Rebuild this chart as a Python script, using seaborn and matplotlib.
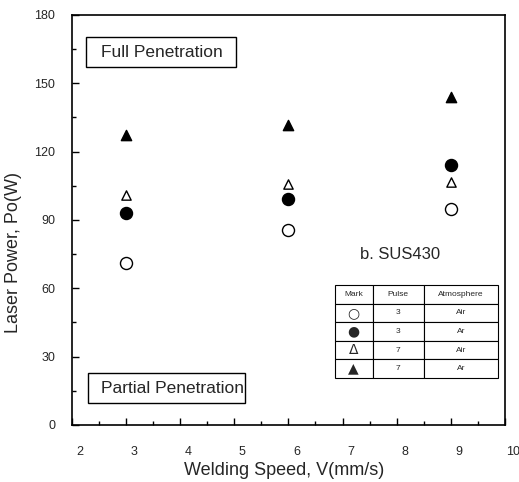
import matplotlib
matplotlib.use("Agg")
import matplotlib.pyplot as plt
import matplotlib.transforms as mtransforms
from matplotlib.patches import Rectangle
import seaborn as sns
import pandas as pd
from matplotlib.ticker import MultipleLocator

sns.set_style("ticks")
plt.rcParams['font.family'] = ['Liberation Sans', 'DejaVu Sans']

speeds = [3, 6, 9]
open_circle_3_air = [71, 85.6, 94.7]
filled_circle_3_ar = [93.2, 99.2, 114.1]
open_tri_7_air = [101, 105.7, 106.5]
filled_tri_7_ar = [127.3, 131.7, 144.1]

series_names = ["3 Air", "3 Ar", "7 Air", "7 Ar"]
series_values = [open_circle_3_air, filled_circle_3_ar, open_tri_7_air, filled_tri_7_ar]
pulse = ["3", "3", "7", "7"]
atmosphere = ["Air", "Ar", "Air", "Ar"]
mark_glyphs = ["○", "●", "Δ", "▲"]

x_ticks = [2, 3, 4, 5, 6, 7, 8, 9, 10]
y_ticks = [0, 30, 60, 90, 120, 150, 180]

styles = {
    "3 Air": dict(marker="o", s=75, facecolor="white", edgecolor="black", linewidth=1.0),
    "3 Ar": dict(marker="o", s=75, facecolor="black", edgecolor="black", linewidth=1.0),
    "7 Air": dict(marker="^", s=45, facecolor="white", edgecolor="black", linewidth=1.0),
    "7 Ar": dict(marker="^", s=55, facecolor="black", edgecolor="black", linewidth=1.0),
}

fig = plt.figure(figsize=(5.19, 4.82), dpi=100)
ax = fig.add_axes([0.1387, 0.1183, 0.834, 0.8507])

for name, vals in zip(series_names, series_values):
    df = pd.DataFrame({"V": speeds, "P": vals})
    sns.scatterplot(data=df, x="V", y="P", ax=ax, legend=False, **styles[name])

ax.set_xlim(2, 10)
ax.set_ylim(0, 180)
ax.set_xticks(x_ticks)
ax.set_yticks(y_ticks)
ax.xaxis.set_minor_locator(MultipleLocator(0.5))
ax.yaxis.set_minor_locator(MultipleLocator(15))
ax.tick_params(which="both", direction="in", length=5, width=1, labelsize=9, color="black")
ax.tick_params(which="minor", length=3)
ax.tick_params(axis="x", pad=15)
ax.tick_params(axis="y", pad=12)
for sp in ax.spines.values():
    sp.set_linewidth(1.2)
    sp.set_color("black")

# scanned original: x tick labels sit slightly right of their ticks
offset = mtransforms.ScaledTranslation(8 / 100, 0, fig.dpi_scale_trans)
for tick in ax.xaxis.get_major_ticks():
    tick.label1.set_transform(tick.label1.get_transform() + offset)

ax.set_xlabel("Welding Speed, V(mm/s)", fontsize=13)
ax.set_ylabel("Laser Power, Po(W)", fontsize=13)
ax.xaxis.set_label_coords(0.49, -0.09)
ax.yaxis.set_label_coords(-0.115, 0.42)

ax.add_patch(Rectangle((0.032, 0.873), 0.347, 0.073, transform=ax.transAxes,
                       facecolor="white", edgecolor="black", linewidth=1, zorder=3))
ax.text(0.067, 0.909, "Full Penetration", transform=ax.transAxes, fontsize=12.5,
        va="center", ha="left", zorder=4)
ax.add_patch(Rectangle((0.037, 0.054), 0.363, 0.073, transform=ax.transAxes,
                       facecolor="white", edgecolor="black", linewidth=1, zorder=3))
ax.text(0.067, 0.09, "Partial Penetration", transform=ax.transAxes, fontsize=12.5,
        va="center", ha="left", zorder=4)
ax.text(0.665, 0.415, "b. SUS430", transform=ax.transAxes, fontsize=12, va="center", ha="left")

cell_text = [[g, p, a] for g, p, a in zip(mark_glyphs, pulse, atmosphere)]
tbl = ax.table(cellText=cell_text, colLabels=["Mark", "Pulse", "Atmosphere"],
               colWidths=[0.233, 0.313, 0.454], cellLoc="center",
               bbox=[0.607, 0.115, 0.377, 0.226])
tbl.auto_set_font_size(False)
for (r, c), cell in tbl.get_celld().items():
    cell.set_linewidth(0.8)
    cell.set_edgecolor("black")
    if c == 0 and r > 0:
        cell.get_text().set_fontsize(10)
        cell.get_text().set_fontfamily(["DejaVu Sans"])
    else:
        cell.get_text().set_fontsize(6)

fig.savefig("out.png", dpi=100)
